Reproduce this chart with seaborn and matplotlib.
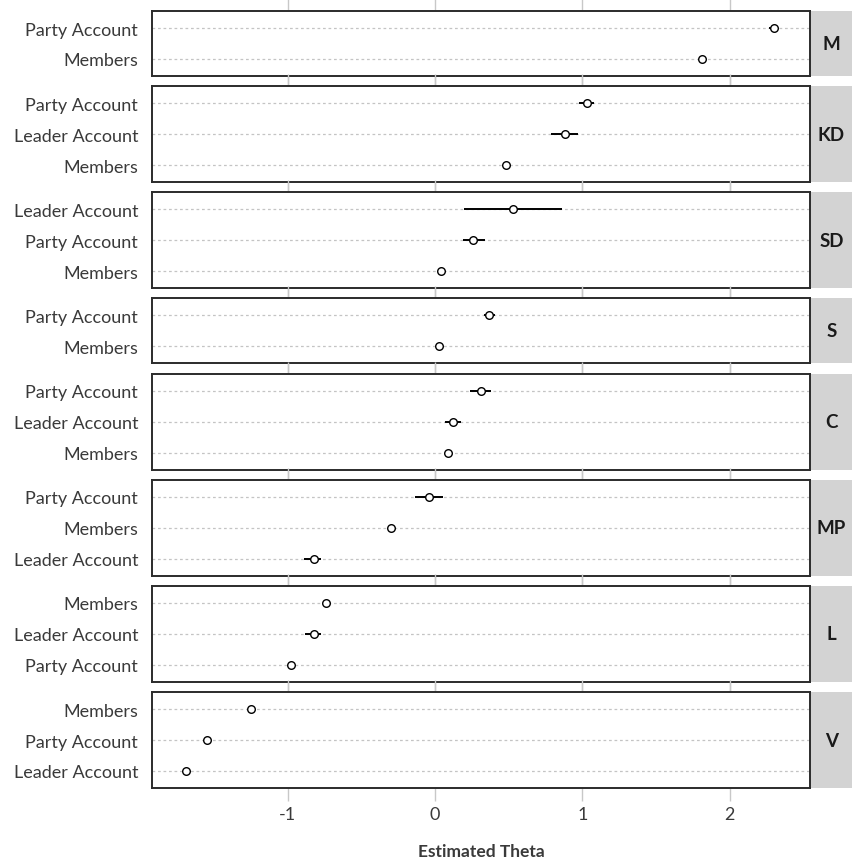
import matplotlib
matplotlib.use("Agg")
import matplotlib.pyplot as plt
from matplotlib.patches import Rectangle
import seaborn as sns
import pandas as pd

# Party panels, top to bottom
parties = ["M", "KD", "SD", "S", "C", "MP", "L", "V"]

# Account types within each panel, top to bottom
accounts = [
    ["Party Account", "Members"],
    ["Party Account", "Leader Account", "Members"],
    ["Leader Account", "Party Account", "Members"],
    ["Party Account", "Members"],
    ["Party Account", "Leader Account", "Members"],
    ["Party Account", "Members", "Leader Account"],
    ["Members", "Leader Account", "Party Account"],
    ["Members", "Party Account", "Leader Account"],
]

# Estimated theta and interval bounds
theta = [
    [2.30, 1.81],
    [1.03, 0.88, 0.48],
    [0.53, 0.26, 0.04],
    [0.37, 0.03],
    [0.31, 0.12, 0.09],
    [-0.04, -0.30, -0.82],
    [-0.74, -0.82, -0.98],
    [-1.25, -1.55, -1.69],
]
lower = [
    [2.27, 1.80],
    [0.98, 0.79, 0.46],
    [0.20, 0.19, 0.03],
    [0.33, 0.02],
    [0.24, 0.07, 0.08],
    [-0.135, -0.31, -0.89],
    [-0.76, -0.88, -0.99],
    [-1.26, -1.56, -1.70],
]
upper = [
    [2.33, 1.82],
    [1.08, 0.97, 0.50],
    [0.86, 0.34, 0.05],
    [0.41, 0.04],
    [0.38, 0.18, 0.10],
    [0.055, -0.28, -0.77],
    [-0.72, -0.77, -0.96],
    [-1.24, -1.54, -1.68],
]

x_ticks = [-1, 0, 1, 2]
x_label = "Estimated Theta"

rows = []
for p, accs, th, lo, hi in zip(parties, accounts, theta, lower, upper):
    for i, (a, t, l, h) in enumerate(zip(accs, th, lo, hi)):
        rows.append(dict(party=p, account=a, pos=i, theta=t, lo=l, hi=h))
df = pd.DataFrame(rows)

sns.set_theme(style="white")
plt.rcParams["font.family"] = ["Lato", "DejaVu Sans"]
plt.rcParams["axes.unicode_minus"] = False

fig_w, fig_h = 853, 862
fig = plt.figure(figsize=(fig_w / 100, fig_h / 100), dpi=100)

pad = 0.55
ratios = [len(a) - 1 + 2 * pad for a in accounts]
gs = fig.add_gridspec(
    len(parties), 1, height_ratios=ratios,
    left=152 / fig_w, right=810 / fig_w,
    top=1 - 12 / fig_h, bottom=1 - 789 / fig_h, hspace=0.115,
)

text_col = "#3a3a3a"
strip_w = (fig_w - 810) / (810 - 152)

for k, p in enumerate(parties):
    ax = fig.add_subplot(gs[k])
    sub = df[df.party == p]
    n = len(sub)

    for pos in sub.pos:
        ax.axhline(pos, color="#c4c4c4", lw=0.9, ls=(0, (2.2, 2.2)), zorder=0)

    ax.hlines(sub.pos, sub.lo, sub.hi, color="black", lw=1.4, zorder=2)
    sns.scatterplot(
        data=sub, x="theta", y="pos", ax=ax, s=30, color="white",
        edgecolor="black", linewidth=1.0, zorder=3, legend=False,
    )

    ax.set_xlim(-1.92, 2.545)
    ax.set_ylim(n - 1 + pad, -pad)
    ax.set_yticks(list(sub.pos))
    ax.set_yticklabels(list(sub.account))
    ax.set_xticks(x_ticks)
    ax.set_xlabel("")
    ax.set_ylabel("")
    ax.tick_params(axis="y", length=0, pad=10, labelsize=13, labelcolor=text_col)
    ax.tick_params(axis="x", direction="out", length=9, width=1.0,
                   color="#c8c8c8", top=True, bottom=True,
                   labelbottom=(k == len(parties) - 1),
                   labelsize=13, labelcolor=text_col, pad=4)
    for s in ax.spines.values():
        s.set_color("#2b2b2b")
        s.set_linewidth(1.4)
        s.set_zorder(5)

    # facet strip on the right
    ax.add_patch(Rectangle((1, 0), strip_w + 0.01, 1, transform=ax.transAxes,
                           facecolor="#d3d3d3", edgecolor="none",
                           clip_on=False, zorder=1))
    ax.text(1 + strip_w / 2, 0.5, p, transform=ax.transAxes, ha="center",
            va="center", fontsize=13.5, fontweight="bold", color="#1a1a1a")

    if k == len(parties) - 1:
        ax.set_xlabel(x_label, fontsize=12.5, fontweight="bold",
                      color=text_col, labelpad=15)

fig.savefig("out.png", dpi=100)
